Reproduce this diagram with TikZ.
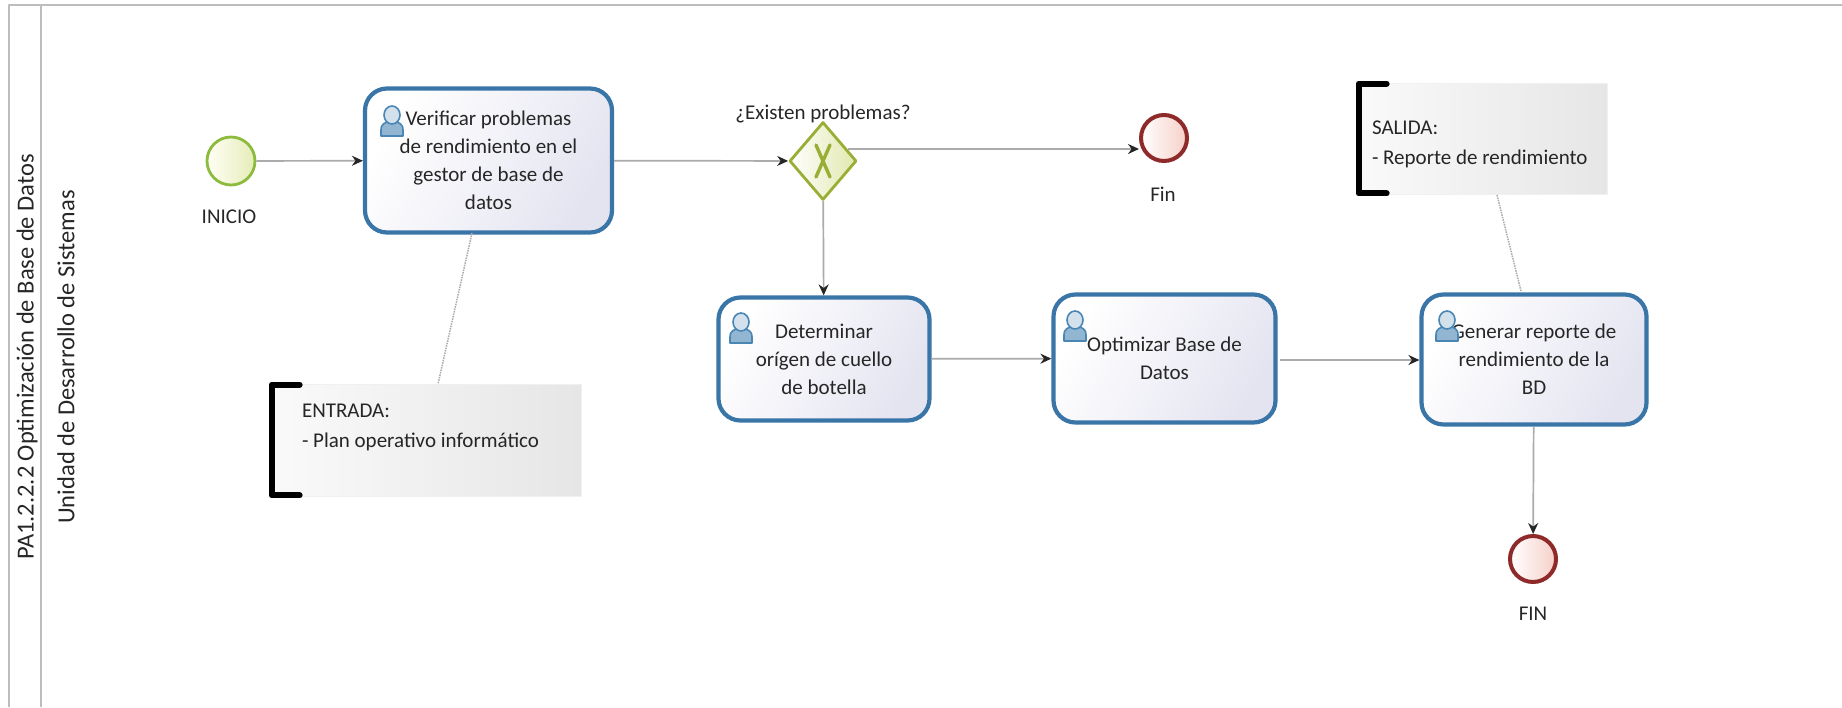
\documentclass[tikz,border=0pt]{standalone}
\usepackage{fontspec}
\setmainfont{Carlito}
\usetikzlibrary{arrows.meta,shapes.geometric}
\definecolor{taskblue}{HTML}{3A75A8}
\definecolor{taskfill}{HTML}{E4E4F1}
\definecolor{iconblue}{HTML}{4A86B4}
\definecolor{startgreen}{HTML}{8DBB3E}
\definecolor{startfill}{HTML}{E6ECB8}
\definecolor{endred}{HTML}{8E2A2A}
\definecolor{endfill}{HTML}{F6CFC8}
\definecolor{gateolive}{HTML}{98AE35}
\definecolor{gatefill}{HTML}{E2E8AE}
\definecolor{linegray}{HTML}{ABABAB}
\definecolor{poolgray}{HTML}{BDBDBD}
\definecolor{notefill}{HTML}{E6E6E6}
\begin{document}
\begin{tikzpicture}[x=1pt, y=-1pt, line join=round, >={Stealth[length=11pt,width=10pt]},
		font=\fontsize{21}{28}\selectfont, text=black!85,
		task/.style={draw=taskblue, line width=4.2pt, rounded corners=22pt, align=center, inner sep=0pt,
			left color=white, right color=taskfill, shading angle=60},
		note/.style={draw=black!6, line width=0.8pt, align=flush left, inner sep=0pt, text width=#1,
			left color=white!98!black, right color=notefill},
		start/.style={circle, draw=startgreen, line width=2.8pt, minimum size=48pt, inner sep=0pt,
			left color=yellow!4, right color=startfill},
		stop/.style={circle, draw=endred, line width=4pt, minimum size=46pt, inner sep=0pt,
			left color=white, right color=endfill},
		gate/.style={diamond, draw=gateolive, line width=2.8pt, minimum width=67pt, minimum height=78pt, inner sep=0pt,
			left color=white, right color=gatefill},
		flow/.style={draw=linegray, line width=1.7pt, -{Stealth[length=11pt,width=10pt,black!85]}},
		assoc/.style={draw=linegray, line width=1.5pt, densely dotted},
		bracket/.style={draw=black, line width=6pt, line cap=round},
		lanetext/.style={rotate=90, font=\fontsize{24.5}{28}\selectfont},
		usericon/.pic={
			\filldraw[draw=iconblue, fill=iconblue!60, line width=1.6pt] (-11,16)--(-11,10)..controls (-11,3) and (-6,3) .. (-3,1)--(3,1)..controls (6,3) and (11,3) .. (11,10)--(11,16)--cycle;
			\filldraw[draw=iconblue, fill=iconblue!25, line width=1.6pt] (0,-5) ellipse (8pt and 9pt);
		}
		]
	\useasboundingbox (0,0) rectangle (1842,707);
	% pool
	\draw[poolgray, line width=2.4pt] (9,707)--(9,5)--(1842,5);
	\draw[poolgray, line width=2.4pt] (41,5)--(41,707);
	\node[lanetext] (pool) at (27,357) {PA1.2.2.2 Optimización de Base de Datos};
	\node[lanetext] (lane) at (66,357) {Unidad de Desarrollo de Sistemas};

	\node[start] (inicio) at (231,161) {};
	\node at (229,217) (inicioL) {INICIO};
	\node[task, minimum width=247pt, minimum height=144pt] (verificar) at (488.5,160.5) {Verificar problemas\\de rendimiento en el\\gestor de base de\\datos};
	\node[gate] (gw) at (823,161) {};
	\node at (823,114) (gwL) {¿Existen problemas?};
	\node[stop] (fin) at (1164,138) {};
	\node at (1163,194) (finL) {Fin};
	\node[task, minimum width=211pt, minimum height=123pt] (determinar) at (824,359) {Determinar\\orígen de cuello\\de botella};
	\node[task, minimum width=222pt, minimum height=128pt] (optimizar) at (1164.5,358.5) {Optimizar Base de\\Datos};
	\node[task, minimum width=225pt, minimum height=130pt] (generar) at (1534,359.5) {Generar reporte de\\rendimiento de la\\BD};
	\node[stop] (fin2) at (1533,559) {};
	\node at (1533,614) (fin2L) {FIN};

	\node[note=246pt, minimum width=312pt, minimum height=112pt] (entrada) at (425,440) {ENTRADA:\\[2pt]- Plan operativo informático\\~};
	\node[note=219pt, minimum width=251pt, minimum height=111pt] (salida) at (1481.5,138.5) {\rule{0pt}{26pt}SALIDA:\\[2pt]- Reporte de rendimiento};
	\draw[bracket] ([shift={(31,1)}]entrada.north west)--([shift={(3,1)}]entrada.north west)--([shift={(3,-1)}]entrada.south west)--([shift={(31,-1)}]entrada.south west);
	\draw[bracket] ([shift={(31,1)}]salida.north west)--([shift={(3,1)}]salida.north west)--([shift={(3,-1)}]salida.south west)--([shift={(31,-1)}]salida.south west);

	\pic at (392,120) {usericon};
	\pic at (741,327) {usericon};
	\pic at (1075,325) {usericon};
	\pic at (1447,325) {usericon};

	\draw[gateolive, line width=3.4pt, line cap=round] ([shift={(-7,-16)}]gw.center)--([shift={(7,16)}]gw.center);
	\draw[gateolive, line width=3.4pt, line cap=round] ([shift={(7,-16)}]gw.center)--([shift={(-7,16)}]gw.center);

	\coordinate (gwout) at (848,149);
	\coordinate (optout) at (1280,360);
	\coordinate (entradaT) at (438,384);
	\coordinate (verificarB) at (472,233);
	\coordinate (salidaB) at (1497,195);
	\coordinate (generarT) at (1521,291);
	\draw[flow] (inicio)--(verificar);
	\draw[flow] (verificar)--(gw);
	\draw[flow] (gwout)--(gwout -| fin.west);
	\draw[flow] (gw)--(determinar);
	\draw[flow] (determinar)--(optimizar);
	\draw[flow] (optout)--(optout -| generar.west);
	\draw[flow] (generar)--(fin2);
	\draw[assoc] (verificarB)--(entradaT);
	\draw[assoc] (salidaB)--(generarT);
\end{tikzpicture}
\end{document}
